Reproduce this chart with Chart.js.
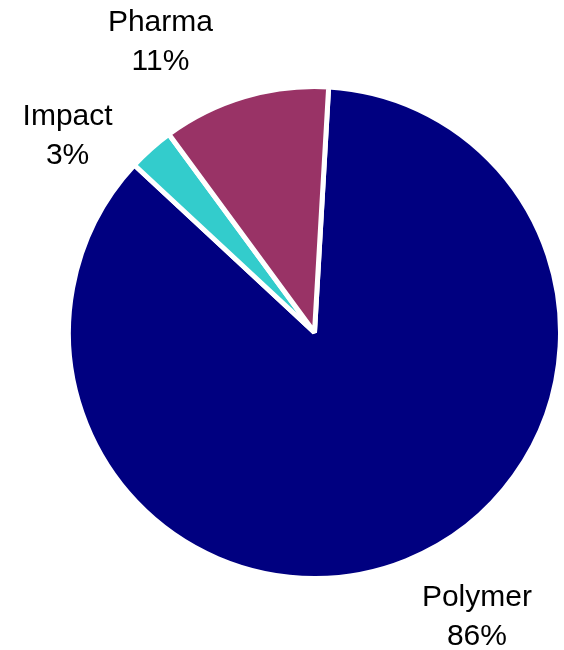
<!DOCTYPE html>
<html>
<head>
<meta charset="utf-8">
<script src="https://cdn.jsdelivr.net/npm/chart.js@4"></script>
<style>
  html, body { margin: 0; padding: 0; background: #ffffff; }
  #wrap { width: 564px; height: 650px; position: relative; }
</style>
</head>
<body>
<div id="wrap"><canvas id="c" width="564" height="650"></canvas></div>
<script>
// Segment shares (percent)
const categories = ['Polymer', 'Impact', 'Pharma'];
const shares = [86, 3, 11];
const sliceColors = ['#000080', '#33CCCC', '#993366'];

// Draws a two-line label (name, share %) outside each slice
const outsideLabels = {
  id: 'outsideLabels',
  afterDatasetsDraw(chart, args, opts) {
    const ctx = chart.ctx;
    const meta = chart.getDatasetMeta(0);
    const values = chart.data.datasets[0].data;
    ctx.save();
    ctx.font = opts.font;
    ctx.fillStyle = opts.color;
    ctx.textAlign = 'center';
    ctx.textBaseline = 'alphabetic';
    meta.data.forEach((arc, i) => {
      const p = arc.getProps(['x', 'y', 'startAngle', 'endAngle', 'outerRadius'], true);
      const mid = (p.startAngle + p.endAngle) / 2;
      const r = p.outerRadius + opts.gap;
      const nudge = opts.nudge[i] || [0, 0];
      const cx = p.x + Math.cos(mid) * r + nudge[0];
      const cy = p.y + Math.sin(mid) * r + nudge[1];
      const lines = [chart.data.labels[i], values[i] + '%'];
      const firstBaseline = cy - opts.lineHeight / 2 + opts.capHeight / 2;
      lines.forEach((t, k) => ctx.fillText(t, cx, firstBaseline + k * opts.lineHeight));
    });
    ctx.restore();
  }
};

new Chart(document.getElementById('c'), {
  type: 'pie',
  data: {
    labels: categories,
    datasets: [{
      data: shares,
      backgroundColor: sliceColors,
      borderColor: '#ffffff',
      borderWidth: 5,
      hoverBorderWidth: 5,
      offset: 0,
      hoverOffset: 0
    }]
  },
  options: {
    responsive: false,
    devicePixelRatio: 1,
    animation: false,
    events: [],
    rotation: 3.3,
    layout: { padding: { left: 66, right: 1, top: 84, bottom: 69 } },
    plugins: {
      legend: { display: false },
      tooltip: { enabled: false },
      outsideLabels: {
        font: "30px 'Liberation Sans', Arial, sans-serif",
        color: '#000000',
        gap: 50,
        lineHeight: 39,
        capHeight: 21.5,
        nudge: [[52, 8], [-50, 22], [-70, -9]]
      }
    }
  },
  plugins: [outsideLabels]
});
</script>
</body>
</html>
